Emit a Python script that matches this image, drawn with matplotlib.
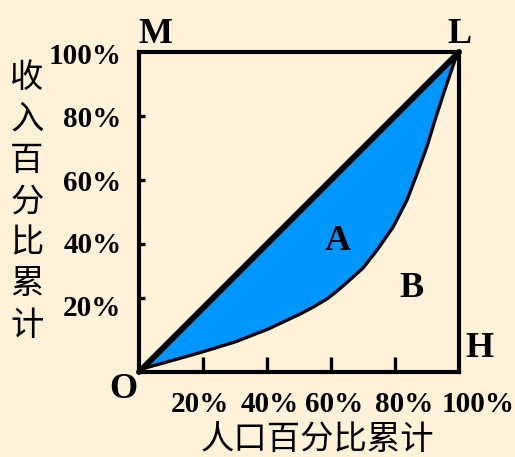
import matplotlib
matplotlib.use("Agg")
import matplotlib.pyplot as plt

# ---- data ----
pop_share = [0.0, 0.019, 0.10, 0.197, 0.30, 0.403, 0.509, 0.55, 0.591, 0.62, 0.65, 0.70, 0.744, 0.794,
             0.8375, 0.869, 0.90, 0.925, 0.955, 0.9875, 1.0]
income_share = [0.0, 0.0125, 0.035, 0.0625, 0.094, 0.134, 0.184, 0.206, 0.231, 0.254, 0.28, 0.325, 0.381, 0.453,
                0.5375, 0.62, 0.705, 0.7875, 0.88, 0.975, 1.0]
equality_x = [0.0, 1.0]
equality_y = [0.0, 1.0]
x_tick_pos = [0.2, 0.4, 0.6, 0.8]
y_tick_pos = [0.23, 0.40, 0.60, 0.80]
x_labels = ["20%", "40%", "60%", "80%", "100%"]
x_label_pos = [0.19, 0.41, 0.61, 0.83, 1.06]
y_labels = ["100%", "80%", "60%", "40%", "20%"]
y_label_pos = [0.985, 0.79, 0.59, 0.395, 0.20]
x_title = "人口百分比累计"
y_title = "收入百分比累计"

BG = "#FFF2D9"
BLUE = "#0096FF"
serif_bold = dict(family="Liberation Serif", weight="bold", color="black")
cjk = dict(family=["Noto Sans CJK SC", "DejaVu Sans"], color="black")

fig = plt.figure(figsize=(5.15, 4.57), dpi=100, facecolor=BG)
ax = fig.add_axes([139/515, 85/457, 320/515, 320/457])
ax.set_facecolor(BG)
ax.set_xlim(0, 1)
ax.set_ylim(0, 1)

# fill between equality line and Lorenz curve
ax.fill_between(pop_share, income_share, pop_share, color=BLUE, lw=0, zorder=1)
ax.plot(pop_share, income_share, color="black", lw=2.4, zorder=3,
        solid_capstyle="round", solid_joinstyle="round", clip_on=False)
ax.plot(equality_x, equality_y, color="black", lw=4.2, zorder=3,
        solid_capstyle="round", clip_on=False)

for s in ax.spines.values():
    s.set_linewidth(3.0)
    s.set_capstyle("projecting")
    s.set_zorder(4)

ax.set_xticks(x_tick_pos)
ax.set_yticks(y_tick_pos)
ax.tick_params(axis="x", direction="in", length=10.5, width=2.4, labelbottom=False)
ax.tick_params(axis="y", direction="in", length=4, width=2.4, labelleft=False)

# tick labels
for lab, xp in zip(x_labels, x_label_pos):
    ax.text(xp, -0.1, lab, ha="center", va="center", fontsize=21, clip_on=False, **serif_bold)
for lab, yp in zip(y_labels, y_label_pos):
    ax.text(-0.055, yp, lab, ha="right", va="center", fontsize=21, clip_on=False, **serif_bold)

# point letters
ax.text(0.05, 1.055, "M", ha="center", va="center", fontsize=26, clip_on=False, **serif_bold)
ax.text(1.0, 1.055, "L", ha="center", va="center", fontsize=26, clip_on=False, **serif_bold)
ax.text(1.063, 0.072, "H", ha="center", va="center", fontsize=26, clip_on=False, **serif_bold)
ax.text(-0.05, -0.056, "O", ha="center", va="center", fontsize=26, clip_on=False, **serif_bold)
ax.text(0.622, 0.409, "A", ha="center", va="center", fontsize=26, clip_on=False, **serif_bold)
ax.text(0.85, 0.262, "B", ha="center", va="center", fontsize=26, clip_on=False, **serif_bold)

# axis titles
fig.text(317/515, 1 - 440/457, x_title, ha="center", va="center", fontsize=24, **cjk)
for i, ch in enumerate(y_title):
    fig.text(27/515, 1 - (78 + i * 41.2)/457, ch, ha="center", va="center", fontsize=24, **cjk)

fig.savefig("out.png", dpi=100, facecolor=BG)
